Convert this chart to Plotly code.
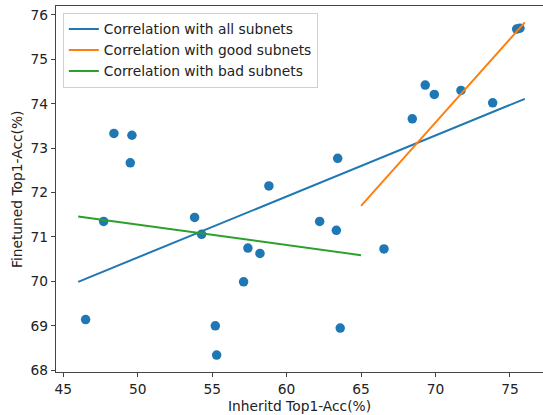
import plotly.graph_objects as go

inherited_acc = [48.40, 49.61, 49.50, 58.81, 63.43, 68.44, 69.31, 69.92, 71.71, 73.84,
                 75.45, 75.67, 47.71, 46.50, 53.82, 54.29, 57.40, 58.21, 57.11, 55.21,
                 55.30, 62.22, 63.34, 66.54, 63.60]
finetuned_acc = [73.33, 73.29, 72.67, 72.15, 72.77, 73.66, 74.42, 74.21, 74.30, 74.02,
                 75.68, 75.70, 71.35, 69.14, 71.44, 71.06, 70.75, 70.63, 69.99, 69.00,
                 68.34, 71.35, 71.15, 70.73, 68.95]

all_fit_x = [46.0, 76.0]
all_fit_y = [69.99, 74.11]
good_fit_x = [65.0, 76.0]
good_fit_y = [71.70, 75.83]
bad_fit_x = [46.0, 65.0]
bad_fit_y = [71.46, 70.59]

x_ticks = [45, 50, 55, 60, 65, 70, 75]
y_ticks = [68, 69, 70, 71, 72, 73, 74, 75, 76]

font = "DejaVu Sans"
fs = 13.8
fig = go.Figure()
fig.add_trace(go.Scatter(x=inherited_acc, y=finetuned_acc, mode="markers",
                         marker=dict(color="#1f77b4", size=9.5, line=dict(width=0)),
                         showlegend=False))
fig.add_trace(go.Scatter(x=all_fit_x, y=all_fit_y, mode="lines",
                         line=dict(color="#1f77b4", width=2),
                         name="Correlation with all subnets"))
fig.add_trace(go.Scatter(x=good_fit_x, y=good_fit_y, mode="lines",
                         line=dict(color="#ff7f0e", width=2),
                         name="Correlation with good subnets"))
fig.add_trace(go.Scatter(x=bad_fit_x, y=bad_fit_y, mode="lines",
                         line=dict(color="#2ca02c", width=2),
                         name="Correlation with bad subnets"))

fig.update_layout(
    width=543, height=415,
    margin=dict(l=56, r=0, t=6, b=43, autoexpand=False),
    plot_bgcolor="white", paper_bgcolor="white",
    font=dict(family=font, size=fs, color="#222"),
    legend=dict(x=0.014, y=0.982, xanchor="left", yanchor="top",
                bgcolor="rgba(255,255,255,0.8)", bordercolor="#d0d0d0", borderwidth=1,
                font=dict(size=fs, family=font), itemwidth=30, tracegroupgap=0),
    xaxis=dict(range=[44.51, 77.22], tickvals=x_ticks, showgrid=False, zeroline=False,
               showline=True, linecolor="#444", linewidth=1.3, mirror=True,
               ticks="outside", ticklen=4, tickcolor="#444", automargin=False,
               tickfont=dict(size=fs)),
    yaxis=dict(range=[67.96, 76.20], tickvals=y_ticks, showgrid=False, zeroline=False,
               showline=True, linecolor="#444", linewidth=1.3,
               ticks="outside", ticklen=4, tickcolor="#444", automargin=False,
               tickfont=dict(size=fs)),
    annotations=[
        dict(text="Inheritd Top1-Acc(%)", xref="paper", yref="paper", x=0.5, y=-0.093,
             xanchor="center", yanchor="middle", showarrow=False, font=dict(size=fs)),
        dict(text="Finetuned Top1-Acc(%)", xref="paper", yref="paper", x=-0.08, y=0.5,
             xanchor="center", yanchor="middle", textangle=-90, showarrow=False,
             font=dict(size=fs)),
    ],
)
fig.write_html("out.html", config={"displayModeBar": False},
               post_script="document.body.style.margin='0';")
